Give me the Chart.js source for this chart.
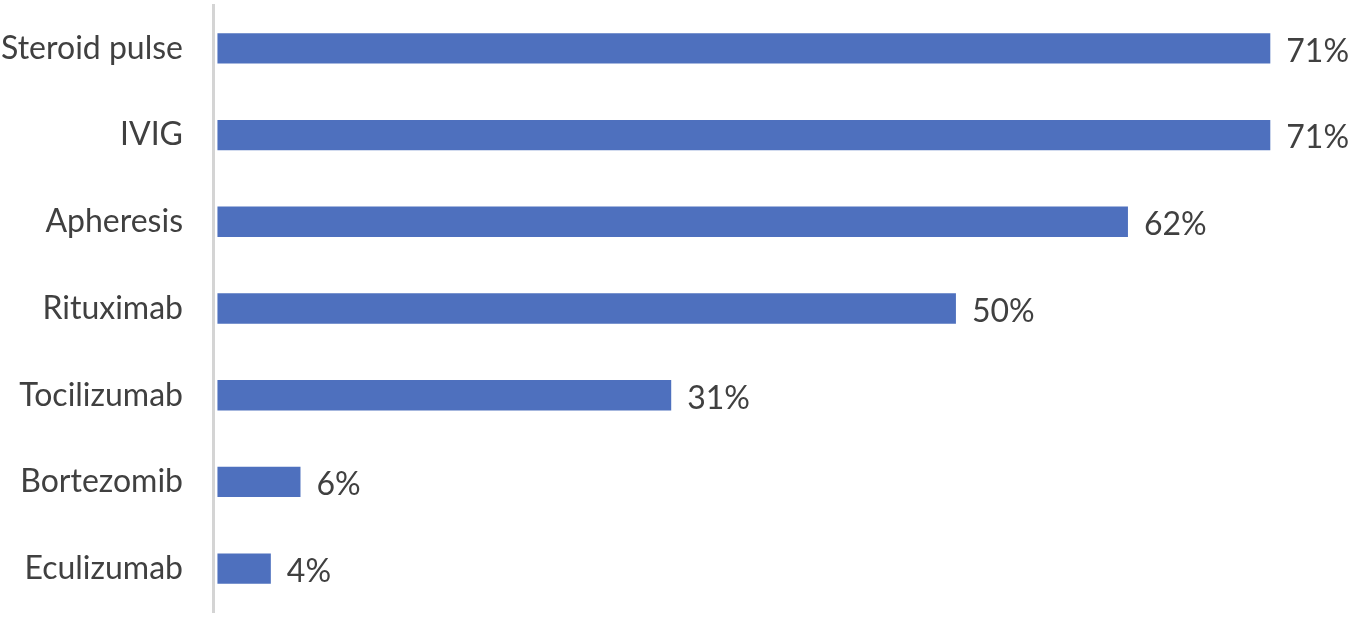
<!DOCTYPE html>
<html>
<head>
<meta charset="utf-8">
<script src="https://cdn.jsdelivr.net/npm/chart.js@4/dist/chart.umd.min.js"></script>
<style>
  html, body { margin: 0; padding: 0; background: #fff; overflow: hidden; }
  canvas { display: block; }
</style>
</head>
<body>
<canvas id="barChart" width="1350" height="617"></canvas>
<script>
var categories = ['Steroid pulse', 'IVIG', 'Apheresis', 'Rituximab', 'Tocilizumab', 'Bortezomib', 'Eculizumab'];
var shares = [71, 71, 61.4, 49.8, 30.6, 5.6, 3.6];
var shareLabels = ['71%', '71%', '62%', '50%', '31%', '6%', '4%'];

var textColor = '#404040';
var fontFamily = 'Lato, "Open Sans", sans-serif';

// value labels to the right of each bar
var valueLabels = {
    id: 'valueLabels',
    afterDatasetsDraw: function(chart) {
        var ctx = chart.ctx;
        var meta = chart.getDatasetMeta(0);
        ctx.save();
        ctx.fillStyle = textColor;
        ctx.font = '32px ' + fontFamily;
        ctx.textAlign = 'left';
        ctx.textBaseline = 'middle';
        meta.data.forEach(function(bar, i) {
            ctx.fillText(shareLabels[i], bar.x + 16, bar.y + 3);
        });
        ctx.restore();
    }
};

var ctx = document.getElementById('barChart').getContext('2d');
new Chart(ctx, {
    type: 'bar',
    data: {
        labels: categories,
        datasets: [{
            label: 'Share',
            data: shares,
            backgroundColor: '#4e70be',
            borderWidth: 0,
            categoryPercentage: 1,
            barPercentage: 0.35
        }]
    },
    options: {
        indexAxis: 'y',
        responsive: false,
        animation: false,
        layout: { padding: { top: 5, bottom: 5, right: 10, left: 0 } },
        plugins: {
            legend: { display: false },
            tooltip: { enabled: false }
        },
        scales: {
            x: {
                min: -0.3,
                max: 75.7,
                display: false
            },
            y: {
                grid: {
                    drawOnChartArea: false,
                    drawTicks: true,
                    tickLength: 30,
                    color: 'rgba(0,0,0,0)'
                },
                border: { display: true, color: '#d4d4d4', width: 3 },
                ticks: {
                    color: textColor,
                    font: { family: fontFamily, size: 32, lineHeight: 0.2 },
                    padding: 0
                },
                afterFit: function(scale) { scale.width = 213; }
            }
        }
    },
    plugins: [valueLabels]
});
</script>
</body>
</html>
